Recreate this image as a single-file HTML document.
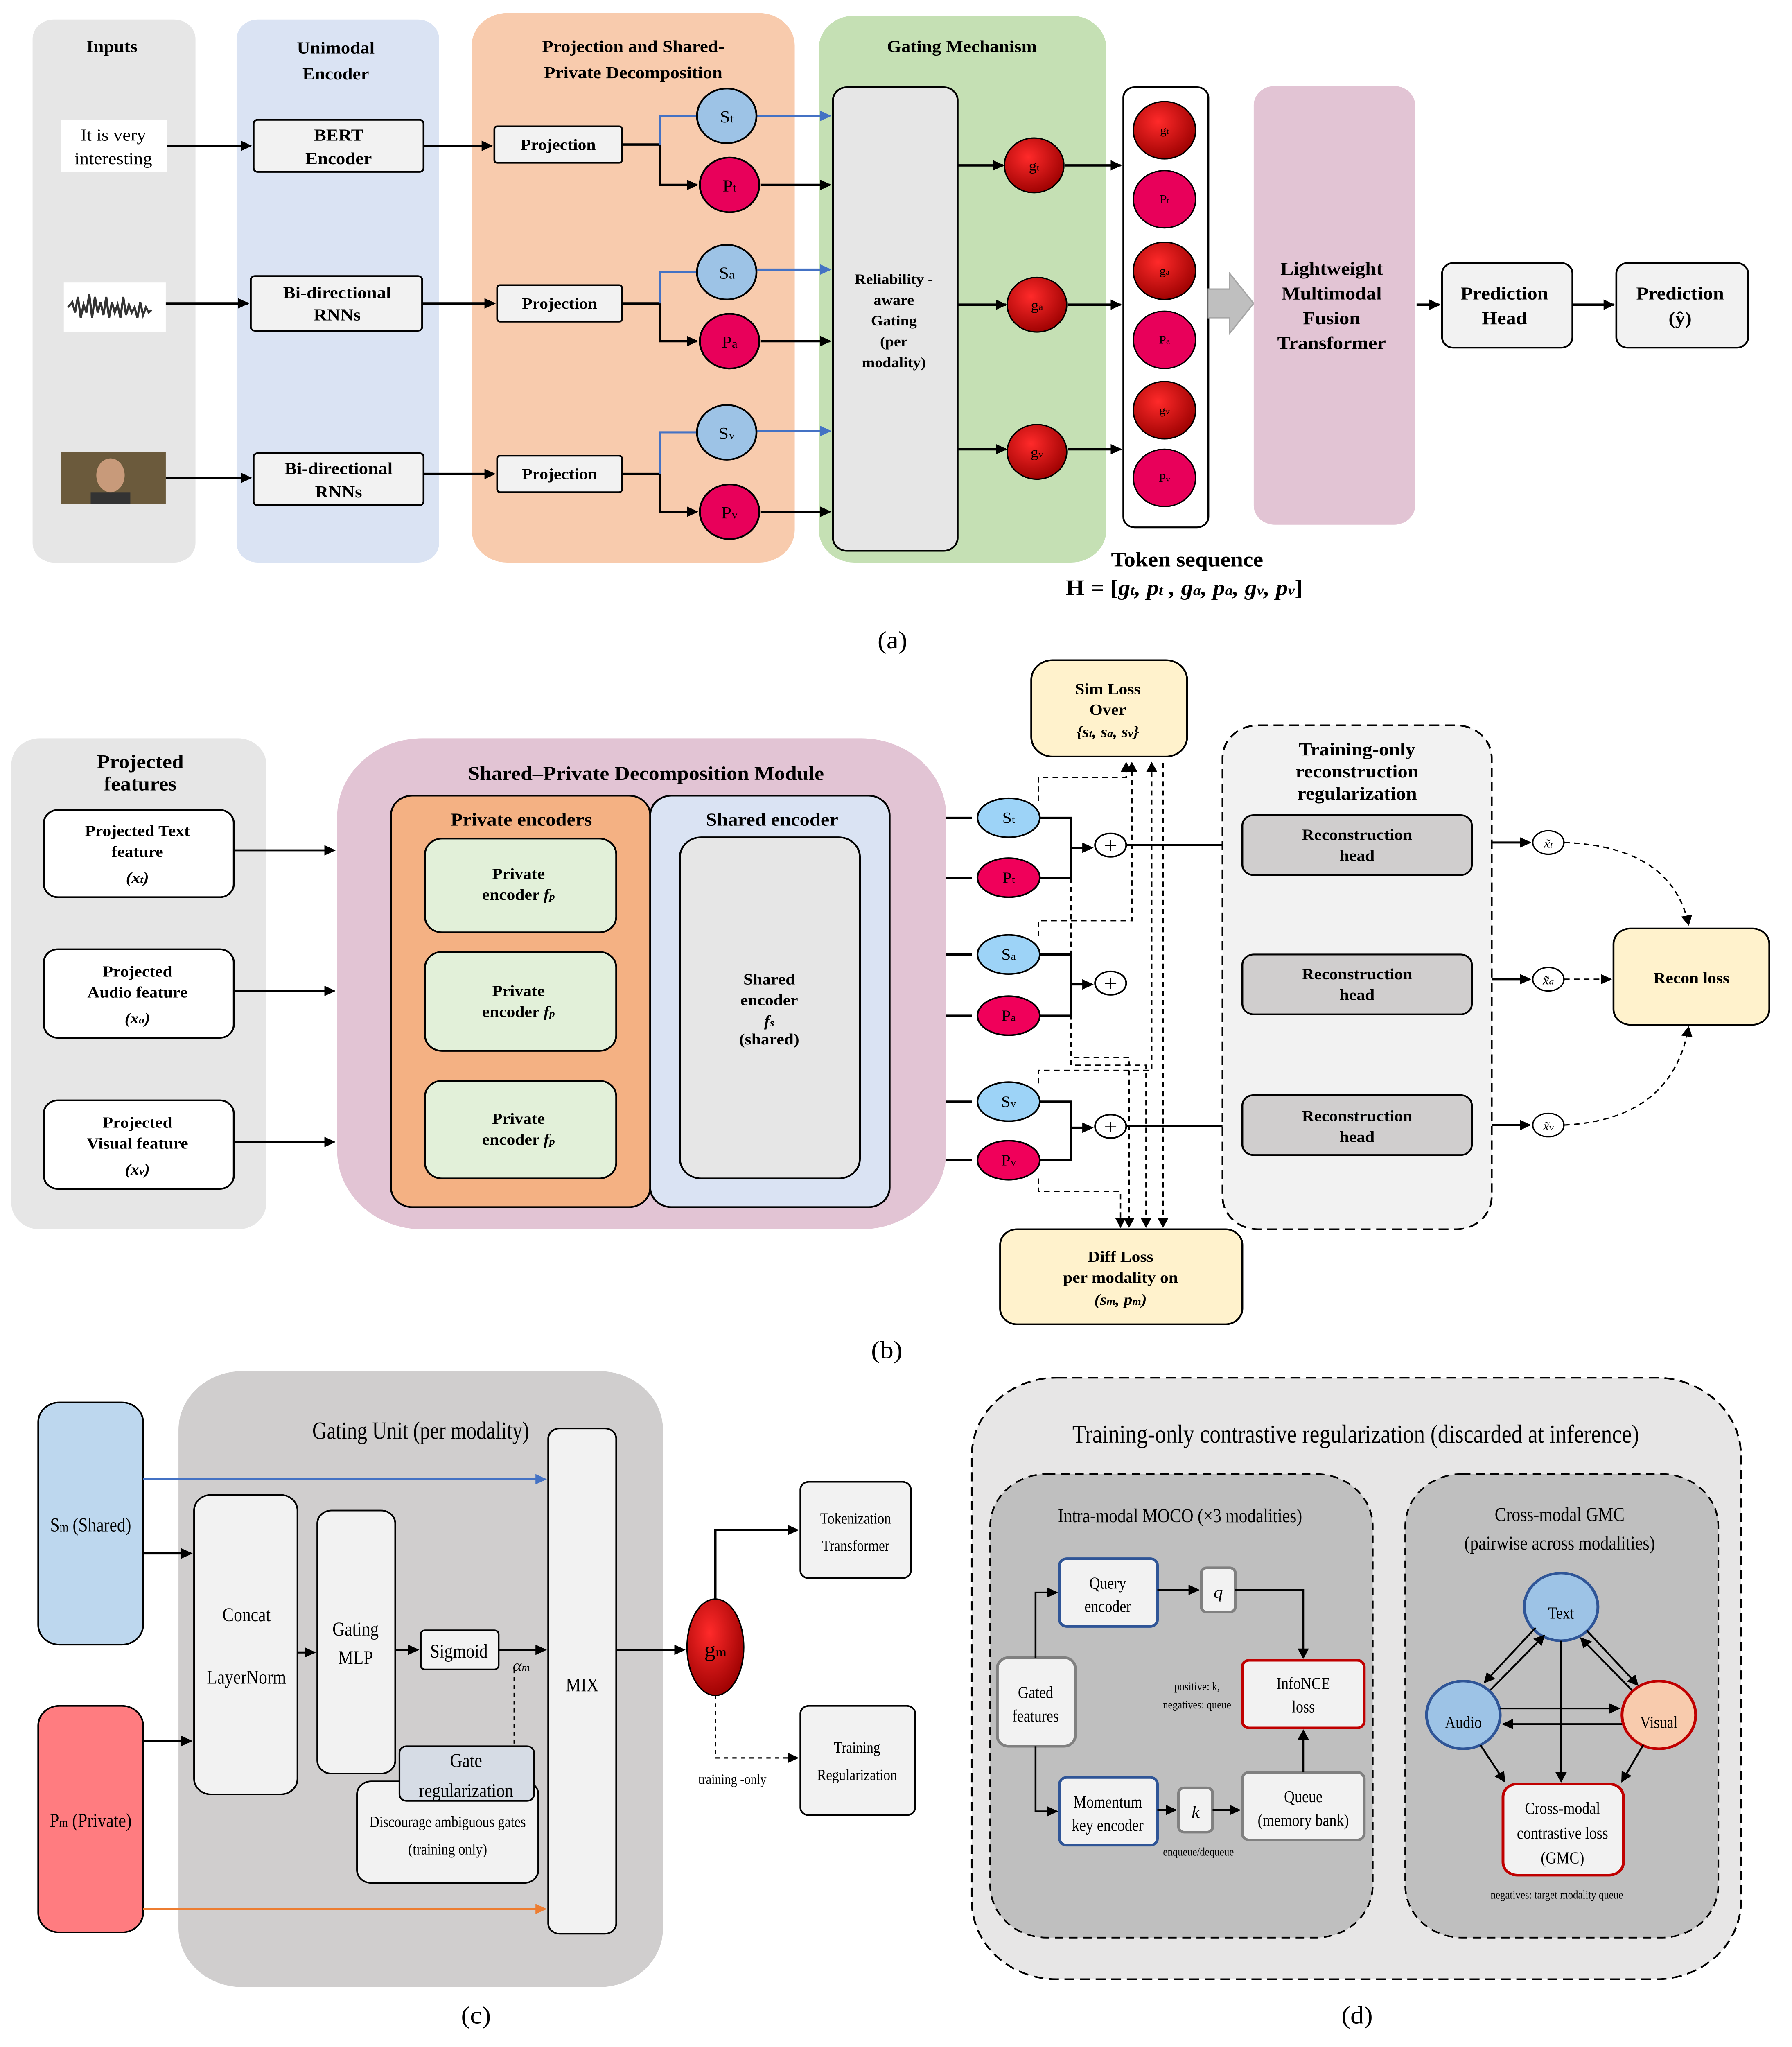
<!DOCTYPE html>
<html><head><meta charset="utf-8"><meta name="viewport" content="width=device-width, initial-scale=1"><style>
html,body{margin:0;padding:0;background:#fff;width:100%;height:100%;overflow:hidden}
svg{display:block;position:fixed;left:0;top:0;width:100vw;height:100vh}
text{font-family:"Liberation Serif",serif;}
.b{font-weight:bold}
</style></head><body>
<svg viewBox="0 0 1265 1572" preserveAspectRatio="none" xmlns="http://www.w3.org/2000/svg">
<defs>
<marker id="ar" markerWidth="8" markerHeight="8" refX="7" refY="4" orient="auto" markerUnits="userSpaceOnUse"><path d="M0,0 L8,4 L0,8 z" fill="#000"/></marker>
<marker id="arb" markerWidth="8" markerHeight="8" refX="7" refY="4" orient="auto" markerUnits="userSpaceOnUse"><path d="M0,0 L8,4 L0,8 z" fill="#4472c4"/></marker>
<marker id="aro" markerWidth="8" markerHeight="8" refX="7" refY="4" orient="auto" markerUnits="userSpaceOnUse"><path d="M0,0 L8,4 L0,8 z" fill="#ed7d31"/></marker>
<radialGradient id="dr" cx="40%" cy="35%" r="70%"><stop offset="0" stop-color="#ff2a2a"/><stop offset="1" stop-color="#9a0000"/></radialGradient>
</defs>
<rect width="1265" height="1572" fill="#fff"/>

<!-- ===== Panel (a) ===== -->
<rect x="23" y="15" width="115" height="417" rx="15" fill="#e6e6e6"/>
<rect x="167" y="15" width="143" height="417" rx="15" fill="#dae3f3"/>
<rect x="333" y="10" width="228" height="422" rx="25" fill="#f8cbad"/>
<rect x="578" y="12" width="203" height="420" rx="25" fill="#c5e0b4"/>
<g class="b" font-size="13" text-anchor="middle">
<text x="79" y="40" class="b">Inputs</text>
<text x="237" y="41" class="b">Unimodal</text><text x="237" y="61" class="b">Encoder</text>
<text x="447" y="40" class="b">Projection  and Shared-</text><text x="447" y="60" class="b">Private Decomposition</text>
<text x="679" y="40" class="b">Gating Mechanism</text>
</g>
<rect x="43" y="92" width="75" height="40" fill="#fff"/>
<text x="80" y="108" font-size="13" text-anchor="middle">It is very</text>
<text x="80" y="126" font-size="13" text-anchor="middle">interesting</text>
<rect x="45" y="217" width="72" height="38" fill="#fff"/>
<path d="M48,236 l3,-4 l2,8 l2,-12 l2,16 l2,-10 l2,6 l2,-14 l2,18 l2,-16 l2,12 l2,-8 l2,10 l2,-14 l2,16 l2,-12 l2,8 l2,-6 l2,10 l2,-16 l2,14 l2,-8 l2,6 l2,-4 l2,8 l2,-12 l2,10 l2,-6 l2,4 l2,-2" stroke="#333" stroke-width="1.5" fill="none"/>
<rect x="43" y="347" width="74" height="40" fill="#6b5a3c"/>
<ellipse cx="78" cy="365" rx="10" ry="13" fill="#c89a7a"/>
<rect x="64" y="378" width="28" height="9" fill="#333"/>
<g fill="#f2f2f2" stroke="#000" stroke-width="1.3">
<rect x="179" y="92" width="120" height="40" rx="3"/>
<rect x="177" y="212" width="121" height="42" rx="3"/>
<rect x="179" y="348" width="120" height="40" rx="3"/>
<rect x="349" y="97" width="90" height="28" rx="2"/>
<rect x="351" y="219" width="88" height="28" rx="2"/>
<rect x="351" y="350" width="88" height="28" rx="2"/>
</g>
<g font-size="13" text-anchor="middle" class="b">
<text x="239" y="108" class="b">BERT</text><text x="239" y="126" class="b">Encoder</text>
<text x="238" y="229" class="b">Bi-directional</text><text x="238" y="246" class="b">RNNs</text>
<text x="239" y="364" class="b">Bi-directional</text><text x="239" y="382" class="b">RNNs</text>
<text x="394" y="115" font-size="12" class="b">Projection</text>
<text x="395" y="237" font-size="12" class="b">Projection</text>
<text x="395" y="368" font-size="12" class="b">Projection</text>
</g>
<g stroke="#000" stroke-width="1.8" fill="none">
<path d="M118,112 H177" marker-end="url(#ar)"/>
<path d="M117,233 H175" marker-end="url(#ar)"/>
<path d="M117,367 H177" marker-end="url(#ar)"/>
<path d="M299,112 H347" marker-end="url(#ar)"/>
<path d="M298,233 H349" marker-end="url(#ar)"/>
<path d="M299,364 H349" marker-end="url(#ar)"/>
<path d="M439,111 H466 V142 H492" marker-end="url(#ar)"/>
<path d="M439,233 H466 V262 H492" marker-end="url(#ar)"/>
<path d="M439,364 H466 V393 H492" marker-end="url(#ar)"/>
<path d="M537,142 H586" marker-end="url(#ar)"/>
<path d="M537,262 H586" marker-end="url(#ar)"/>
<path d="M537,393 H586" marker-end="url(#ar)"/>
<path d="M676,127 H708" marker-end="url(#ar)"/>
<path d="M676,234 H710" marker-end="url(#ar)"/>
<path d="M676,345 H710" marker-end="url(#ar)"/>
<path d="M752,127 H791" marker-end="url(#ar)"/>
<path d="M754,234 H791" marker-end="url(#ar)"/>
<path d="M754,345 H791" marker-end="url(#ar)"/>
<path d="M1000,234 H1016" marker-end="url(#ar)"/>
<path d="M1110,234 H1139" marker-end="url(#ar)"/>
</g>
<g stroke="#4472c4" stroke-width="1.6" fill="none">
<path d="M466,111 V89 H492"/><path d="M466,233 V209 H492"/><path d="M466,364 V332 H492"/>
<path d="M534,89 H586" marker-end="url(#arb)"/>
<path d="M534,207 H586" marker-end="url(#arb)"/>
<path d="M534,331 H586" marker-end="url(#arb)"/>
</g>
<g stroke="#000" stroke-width="1.3">
<circle cx="513" cy="89" r="21" fill="#9dc3e6"/><circle cx="515" cy="142" r="21" fill="#e8005a"/>
<circle cx="513" cy="209" r="21" fill="#9dc3e6"/><circle cx="515" cy="262" r="21" fill="#e8005a"/>
<circle cx="513" cy="332" r="21" fill="#9dc3e6"/><circle cx="515" cy="393" r="21" fill="#e8005a"/>
</g>
<g font-size="13" text-anchor="middle">
<text x="513" y="94">S<tspan font-size="9">t</tspan></text><text x="515" y="147">P<tspan font-size="9">t</tspan></text>
<text x="513" y="214">S<tspan font-size="9">a</tspan></text><text x="515" y="267">P<tspan font-size="9">a</tspan></text>
<text x="513" y="337">S<tspan font-size="9">v</tspan></text><text x="515" y="398">P<tspan font-size="9">v</tspan></text>
</g>
<rect x="588" y="67" width="88" height="356" rx="10" fill="#e6e6e6" stroke="#000" stroke-width="1.3"/>
<g font-size="11" text-anchor="middle" class="b">
<text x="631" y="218" class="b">Reliability -</text><text x="631" y="234" class="b">aware</text><text x="631" y="250" class="b">Gating</text><text x="631" y="266" class="b">(per</text><text x="631" y="282" class="b">modality)</text>
</g>
<g stroke="#000" stroke-width="1"><circle cx="730" cy="127" r="21" fill="url(#dr)"/><circle cx="732" cy="234" r="21" fill="url(#dr)"/><circle cx="732" cy="347" r="21" fill="url(#dr)"/></g>
<g font-size="11" text-anchor="middle"><text x="730" y="131">g<tspan font-size="7">t</tspan></text><text x="732" y="238">g<tspan font-size="7">a</tspan></text><text x="732" y="351">g<tspan font-size="7">v</tspan></text></g>
<rect x="793" y="67" width="60" height="338" rx="8" fill="#fff" stroke="#000" stroke-width="1.3"/>
<g stroke="#000" stroke-width="1">
<circle cx="822" cy="100" r="22" fill="url(#dr)"/><circle cx="822" cy="153" r="22" fill="#e8005a"/>
<circle cx="822" cy="208" r="22" fill="url(#dr)"/><circle cx="822" cy="261" r="22" fill="#e8005a"/>
<circle cx="822" cy="315" r="22" fill="url(#dr)"/><circle cx="822" cy="367" r="22" fill="#e8005a"/>
</g>
<g font-size="9" text-anchor="middle"><text x="822" y="103">g<tspan font-size="6">t</tspan></text><text x="822" y="156">P<tspan font-size="6">t</tspan></text><text x="822" y="211">g<tspan font-size="6">a</tspan></text><text x="822" y="264">P<tspan font-size="6">a</tspan></text><text x="822" y="318">g<tspan font-size="6">v</tspan></text><text x="822" y="370">P<tspan font-size="6">v</tspan></text></g>
<path d="M853,222 H868 V210 L885,233 L868,256 V244 H853 Z" fill="#bfbfbf" stroke="#a6a6a6"/>
<rect x="885" y="66" width="114" height="337" rx="15" fill="#e2c4d4"/>
<g font-size="14" text-anchor="middle" class="b"><text x="940" y="211" class="b">Lightweight</text><text x="940" y="230" class="b">Multimodal</text><text x="940" y="249" class="b">Fusion</text><text x="940" y="268" class="b">Transformer</text></g>
<rect x="1018" y="202" width="92" height="65" rx="8" fill="#f2f2f2" stroke="#000" stroke-width="1.3"/>
<rect x="1141" y="202" width="93" height="65" rx="8" fill="#f2f2f2" stroke="#000" stroke-width="1.3"/>
<g font-size="14" text-anchor="middle" class="b"><text x="1062" y="230" class="b">Prediction</text><text x="1062" y="249" class="b">Head</text><text x="1186" y="230" class="b">Prediction</text><text x="1186" y="249" class="b">(ŷ)</text></g>
<text x="838" y="435" font-size="16" text-anchor="middle" class="b">Token sequence</text>
<text x="836" y="457" font-size="17" text-anchor="middle" class="b">H = [<tspan font-style="italic">g<tspan font-size="11">t</tspan>, p<tspan font-size="11">t</tspan> , g<tspan font-size="11">a</tspan>, p<tspan font-size="11">a</tspan>, g<tspan font-size="11">v</tspan>, p<tspan font-size="11">v</tspan></tspan>]</text>
<text x="630" y="498" font-size="19" text-anchor="middle">(a)</text>

<!-- ===== Panel (b) ===== -->
<rect x="8" y="567" width="180" height="377" rx="20" fill="#e6e6e6"/>
<text x="99" y="590" font-size="15" text-anchor="middle" class="b">Projected</text>
<text x="99" y="607" font-size="15" text-anchor="middle" class="b">features</text>
<g fill="#fff" stroke="#000" stroke-width="1.3">
<rect x="31" y="622" width="134" height="67" rx="10"/><rect x="31" y="729" width="134" height="68" rx="10"/><rect x="31" y="845" width="134" height="68" rx="10"/>
</g>
<g font-size="12" text-anchor="middle" class="b">
<text x="97" y="642" class="b">Projected Text</text><text x="97" y="658" class="b">feature</text><text x="97" y="678" font-style="italic">(x<tspan font-size="8">t</tspan>)</text>
<text x="97" y="750" class="b">Projected</text><text x="97" y="766" class="b">Audio feature</text><text x="97" y="786" font-style="italic">(x<tspan font-size="8">a</tspan>)</text>
<text x="97" y="866" class="b">Projected</text><text x="97" y="882" class="b">Visual feature</text><text x="97" y="902" font-style="italic">(x<tspan font-size="8">v</tspan>)</text>
</g>
<g stroke="#000" stroke-width="1.5"><path d="M165,653 H236" marker-end="url(#ar)"/><path d="M165,761 H236" marker-end="url(#ar)"/><path d="M165,877 H236" marker-end="url(#ar)"/></g>
<rect x="238" y="567" width="430" height="377" rx="60" fill="#e2c4d4"/>
<text x="456" y="599" font-size="15" text-anchor="middle" class="b">Shared–Private Decomposition Module</text>
<rect x="276" y="611" width="183" height="316" rx="15" fill="#f4b183" stroke="#000" stroke-width="1.3"/>
<rect x="459" y="611" width="169" height="316" rx="15" fill="#dae3f3" stroke="#000" stroke-width="1.3"/>
<text x="368" y="634" font-size="14" text-anchor="middle" class="b">Private encoders</text>
<text x="545" y="634" font-size="14" text-anchor="middle" class="b">Shared encoder</text>
<g fill="#e2f0d9" stroke="#000" stroke-width="1.3">
<rect x="300" y="644" width="135" height="72" rx="12"/><rect x="300" y="731" width="135" height="76" rx="12"/><rect x="300" y="830" width="135" height="75" rx="12"/>
</g>
<rect x="480" y="643" width="127" height="262" rx="15" fill="#e6e6e6" stroke="#000" stroke-width="1.3"/>
<g font-size="12" text-anchor="middle" class="b">
<text x="366" y="675" class="b">Private</text><text x="366" y="691" class="b">encoder <tspan font-style="italic">f</tspan><tspan font-size="8" font-style="italic">p</tspan></text>
<text x="366" y="765" class="b">Private</text><text x="366" y="781" class="b">encoder <tspan font-style="italic">f</tspan><tspan font-size="8" font-style="italic">p</tspan></text>
<text x="366" y="863" class="b">Private</text><text x="366" y="879" class="b">encoder <tspan font-style="italic">f</tspan><tspan font-size="8" font-style="italic">p</tspan></text>
<text x="543" y="756" class="b">Shared</text><text x="543" y="772" class="b">encoder</text><text x="543" y="788" font-style="italic" class="b">f<tspan font-size="8">s</tspan></text><text x="543" y="802" class="b">(shared)</text>
</g>
<g stroke="#000" stroke-width="1" fill="none" stroke-dasharray="4,3">
<path d="M733,615 V597 H795 V586" marker-end="url(#ar)"/>
<path d="M733,719 V707 H799 V586" marker-end="url(#ar)"/>
<path d="M733,832 V822 H813 V586" marker-end="url(#ar)"/>
<path d="M756,660 V812 H797 V942" marker-end="url(#ar)"/>
<path d="M756,765 V818 H809 V942" marker-end="url(#ar)"/>
<path d="M733,905 V915 H791 V942" marker-end="url(#ar)"/>
<path d="M821,586 V942" marker-end="url(#ar)"/>
</g>
<g stroke="#000" stroke-width="1.6" fill="none">
<path d="M668,628 H686"/><path d="M668,674 H686"/><path d="M668,733 H686"/><path d="M668,780 H686"/><path d="M668,846 H686"/><path d="M668,891 H686"/>
<path d="M734,628 H756 V674 H734"/><path d="M756,651 H771" marker-end="url(#ar)"/>
<path d="M734,733 H756 V780 H734"/><path d="M756,756 H771" marker-end="url(#ar)"/>
<path d="M734,846 H756 V891 H734"/><path d="M756,866 H771" marker-end="url(#ar)"/>
<path d="M795,649 H875" marker-end="url(#ar)"/>
<path d="M795,865 H875" marker-end="url(#ar)"/>
<path d="M1039,647 H1080" marker-end="url(#ar)"/><path d="M1039,752 H1080" marker-end="url(#ar)"/><path d="M1039,864 H1080" marker-end="url(#ar)"/>
</g>
<g stroke="#000" stroke-width="1.2">
<ellipse cx="712" cy="628" rx="22" ry="15" fill="#9dd3f7"/><ellipse cx="712" cy="674" rx="22" ry="15" fill="#f0005a"/>
<ellipse cx="712" cy="733" rx="22" ry="15" fill="#9dd3f7"/><ellipse cx="712" cy="780" rx="22" ry="15" fill="#f0005a"/>
<ellipse cx="712" cy="846" rx="22" ry="15" fill="#9dd3f7"/><ellipse cx="712" cy="891" rx="22" ry="15" fill="#f0005a"/>
</g>
<g font-size="12" text-anchor="middle">
<text x="712" y="632">S<tspan font-size="8">t</tspan></text><text x="712" y="678">P<tspan font-size="8">t</tspan></text>
<text x="712" y="737">S<tspan font-size="8">a</tspan></text><text x="712" y="784">P<tspan font-size="8">a</tspan></text>
<text x="712" y="850">S<tspan font-size="8">v</tspan></text><text x="712" y="895">P<tspan font-size="8">v</tspan></text>
</g>
<g stroke="#000" stroke-width="1.2" fill="#fff">
<ellipse cx="784" cy="649" rx="11" ry="9"/><ellipse cx="784" cy="755" rx="11" ry="9"/><ellipse cx="784" cy="865" rx="11" ry="9"/>
</g>
<g font-size="17" text-anchor="middle"><text x="784" y="655">+</text><text x="784" y="761">+</text><text x="784" y="871">+</text></g>
<rect x="728" y="507" width="110" height="74" rx="15" fill="#fff2cc" stroke="#000" stroke-width="1.3"/>
<g font-size="12" text-anchor="middle" class="b"><text x="782" y="533" class="b">Sim Loss</text><text x="782" y="549" class="b">Over</text><text x="782" y="566" font-style="italic">{s<tspan font-size="8">t</tspan>, s<tspan font-size="8">a</tspan>, s<tspan font-size="8">v</tspan>}</text></g>
<rect x="706" y="944" width="171" height="73" rx="12" fill="#fff2cc" stroke="#000" stroke-width="1.3"/>
<g font-size="12" text-anchor="middle" class="b"><text x="791" y="969" class="b">Diff Loss</text><text x="791" y="985" class="b">per modality  on</text><text x="791" y="1002" font-style="italic">(s<tspan font-size="8">m</tspan>, p<tspan font-size="8">m</tspan>)</text></g>
<rect x="863" y="557" width="190" height="387" rx="25" fill="#f2f2f2" stroke="#000" stroke-width="1.3" stroke-dasharray="7,4"/>
<g font-size="14" text-anchor="middle" class="b"><text x="958" y="580" class="b">Training-only</text><text x="958" y="597" class="b">reconstruction</text><text x="958" y="614" class="b">regularization</text></g>
<g fill="#d0cece" stroke="#000" stroke-width="1.3">
<rect x="877" y="626" width="162" height="46" rx="8"/><rect x="877" y="733" width="162" height="46" rx="8"/><rect x="877" y="841" width="162" height="46" rx="8"/>
</g>
<g font-size="12" text-anchor="middle" class="b">
<text x="958" y="645" class="b">Reconstruction</text><text x="958" y="661" class="b">head</text>
<text x="958" y="752" class="b">Reconstruction</text><text x="958" y="768" class="b">head</text>
<text x="958" y="861" class="b">Reconstruction</text><text x="958" y="877" class="b">head</text>
</g>
<g stroke="#000" stroke-width="1" fill="#fff"><ellipse cx="1093" cy="647" rx="11" ry="9"/><ellipse cx="1093" cy="752" rx="11" ry="9"/><ellipse cx="1093" cy="864" rx="11" ry="9"/></g>
<g font-size="10" text-anchor="middle" font-style="italic"><text x="1093" y="651">x̃<tspan font-size="7">t</tspan></text><text x="1093" y="756">x̃<tspan font-size="7">a</tspan></text><text x="1093" y="868">x̃<tspan font-size="7">v</tspan></text></g>
<g stroke="#000" stroke-width="1" fill="none" stroke-dasharray="4,3">
<path d="M1104,647 Q1180,650 1192,710" marker-end="url(#ar)"/>
<path d="M1104,752 H1137" marker-end="url(#ar)"/>
<path d="M1104,864 Q1180,860 1192,789" marker-end="url(#ar)"/>
</g>
<rect x="1139" y="713" width="110" height="74" rx="12" fill="#fff2cc" stroke="#000" stroke-width="1.3"/>
<text x="1194" y="755" font-size="12" text-anchor="middle" class="b">Recon loss</text>
<text x="626" y="1043" font-size="19" text-anchor="middle">(b)</text>

<!-- ===== Panel (c) ===== -->
<rect x="126" y="1053" width="342" height="473" rx="45" fill="#d0cece"/>
<text x="297" y="1105" font-size="19" text-anchor="middle" transform="translate(297,0) scale(0.75,1) translate(-297,0)">Gating Unit (per modality)</text>
<rect x="27" y="1077" width="74" height="186" rx="15" fill="#bdd7ee" stroke="#000" stroke-width="1.2"/>
<rect x="27" y="1310" width="74" height="174" rx="15" fill="#ff7c80" stroke="#000" stroke-width="1.2"/>
<text x="64" y="1176" font-size="15" text-anchor="middle" transform="translate(64,0) scale(0.8,1) translate(-64,0)">S<tspan font-size="10">m</tspan> (Shared)</text>
<text x="64" y="1403" font-size="15" text-anchor="middle" transform="translate(64,0) scale(0.8,1) translate(-64,0)">P<tspan font-size="10">m</tspan> (Private)</text>
<g fill="#f2f2f2" stroke="#000" stroke-width="1.2">
<rect x="137" y="1148" width="73" height="230" rx="12"/>
<rect x="224" y="1160" width="55" height="202" rx="10"/>
<rect x="297" y="1252" width="55" height="30" rx="3"/>
<rect x="387" y="1097" width="48" height="388" rx="8"/>
<rect x="252" y="1368" width="128" height="78" rx="10"/>
<rect x="565" y="1138" width="78" height="74" rx="6"/>
<rect x="565" y="1310" width="81" height="84" rx="6"/>
</g>
<rect x="282" y="1341" width="95" height="42" rx="5" fill="#d6dce5" stroke="#000" stroke-width="1.2"/>
<g font-size="15" text-anchor="middle">
<text x="174" y="1245" transform="translate(174,0) scale(0.8,1) translate(-174,0)">Concat</text>
<text x="174" y="1293" transform="translate(174,0) scale(0.8,1) translate(-174,0)">LayerNorm</text>
<text x="251" y="1256" transform="translate(251,0) scale(0.8,1) translate(-251,0)">Gating</text>
<text x="251" y="1278" transform="translate(251,0) scale(0.8,1) translate(-251,0)">MLP</text>
<text x="324" y="1273" transform="translate(324,0) scale(0.8,1) translate(-324,0)">Sigmoid</text>
<text x="411" y="1299" transform="translate(411,0) scale(0.8,1) translate(-411,0)">MIX</text>
<text x="329" y="1357" transform="translate(329,0) scale(0.8,1) translate(-329,0)">Gate</text>
<text x="329" y="1380" transform="translate(329,0) scale(0.8,1) translate(-329,0)">regularization</text>
</g>
<g font-size="12" text-anchor="middle">
<text x="316" y="1403" transform="translate(316,0) scale(0.8,1) translate(-316,0)">Discourage ambiguous gates</text>
<text x="316" y="1424" transform="translate(316,0) scale(0.8,1) translate(-316,0)">(training only)</text>
<text x="604" y="1170" transform="translate(604,0) scale(0.8,1) translate(-604,0)">Tokenization</text>
<text x="604" y="1191" transform="translate(604,0) scale(0.8,1) translate(-604,0)">Transformer</text>
<text x="605" y="1346" transform="translate(605,0) scale(0.8,1) translate(-605,0)">Training</text>
<text x="605" y="1367" transform="translate(605,0) scale(0.8,1) translate(-605,0)">Regularization</text>
<text x="517" y="1370" font-size="11" transform="translate(517,0) scale(0.8,1) translate(-517,0)">training -only</text>
<text x="368" y="1283" font-size="12" font-style="italic">α<tspan font-size="8">m</tspan></text>
</g>
<g stroke="#000" stroke-width="1.6" fill="none">
<path d="M101,1193 H135" marker-end="url(#ar)"/>
<path d="M101,1337 H135" marker-end="url(#ar)"/>
<path d="M210,1269 H222" marker-end="url(#ar)"/>
<path d="M279,1267 H295" marker-end="url(#ar)"/>
<path d="M352,1267 H385" marker-end="url(#ar)"/>
<path d="M435,1267 H483" marker-end="url(#ar)"/>
<path d="M505,1228 V1175 H563" marker-end="url(#ar)"/>
</g>
<g stroke="#000" stroke-width="1" fill="none" stroke-dasharray="3,3">
<path d="M363,1282 V1341"/>
<path d="M505,1302 V1350 H563" marker-end="url(#ar)"/>
</g>
<path d="M101,1136 H385" stroke="#4472c4" stroke-width="1.6" marker-end="url(#arb)"/>
<path d="M101,1466 H385" stroke="#ed7d31" stroke-width="1.6" marker-end="url(#aro)"/>
<ellipse cx="505" cy="1265" rx="20" ry="37" fill="url(#dr)" stroke="#000"/>
<text x="505" y="1272" font-size="16" text-anchor="middle">g<tspan font-size="10">m</tspan></text>
<text x="336" y="1554" font-size="19" text-anchor="middle">(c)</text>

<!-- ===== Panel (d) ===== -->
<rect x="686" y="1058" width="543" height="462" rx="60" fill="#e7e6e6" stroke="#000" stroke-width="1.3" stroke-dasharray="7,4"/>
<text x="957" y="1108" font-size="20" text-anchor="middle" transform="translate(957,0) scale(0.78,1) translate(-957,0)">Training-only contrastive regularization (discarded at inference)</text>
<rect x="699" y="1132" width="270" height="356" rx="40" fill="#bfbfbf" stroke="#000" stroke-width="1.2" stroke-dasharray="6,4"/>
<rect x="992" y="1132" width="221" height="356" rx="40" fill="#bfbfbf" stroke="#000" stroke-width="1.2" stroke-dasharray="6,4"/>
<g font-size="15" text-anchor="middle">
<text x="833" y="1169" transform="translate(833,0) scale(0.8,1) translate(-833,0)">Intra-modal MOCO (×3 modalities)</text>
<text x="1101" y="1168" transform="translate(1101,0) scale(0.8,1) translate(-1101,0)">Cross-modal GMC</text>
<text x="1101" y="1190" transform="translate(1101,0) scale(0.8,1) translate(-1101,0)">(pairwise across modalities)</text>
</g>
<g stroke-width="2" fill="#f2f2f2">
<rect x="748" y="1197" width="69" height="52" rx="5" stroke="#2f5597"/>
<rect x="748" y="1365" width="69" height="52" rx="5" stroke="#2f5597"/>
<rect x="877" y="1275" width="86" height="52" rx="5" stroke="#c00000"/>
<rect x="877" y="1361" width="86" height="52" rx="5" stroke="#808080"/>
<rect x="704" y="1273" width="55" height="68" rx="8" stroke="#808080"/>
<rect x="848" y="1204" width="24" height="34" rx="4" stroke="#808080"/>
<rect x="832" y="1373" width="24" height="34" rx="4" stroke="#808080"/>
<rect x="1061" y="1370" width="85" height="70" rx="10" stroke="#c00000"/>
</g>
<circle cx="1102" cy="1234" r="26" fill="#9dc3e6" stroke="#2f5597" stroke-width="2"/>
<circle cx="1033" cy="1317" r="26" fill="#9dc3e6" stroke="#2f5597" stroke-width="2"/>
<circle cx="1171" cy="1317" r="26" fill="#f8cbad" stroke="#c00000" stroke-width="2"/>
<g stroke="#000" stroke-width="1.3" fill="none">
<path d="M731,1273 V1223 H746" marker-end="url(#ar)"/>
<path d="M731,1341 V1391 H746" marker-end="url(#ar)"/>
<path d="M817,1221 H846" marker-end="url(#ar)"/>
<path d="M872,1221 H920 V1273" marker-end="url(#ar)"/>
<path d="M817,1390 H830" marker-end="url(#ar)"/>
<path d="M856,1390 H875" marker-end="url(#ar)"/>
<path d="M920,1361 V1329" marker-end="url(#ar)"/>
<path d="M1084,1250 L1048,1292" marker-end="url(#ar)"/>
<path d="M1052,1298 L1090,1256" marker-end="url(#ar)"/>
<path d="M1120,1252 L1156,1294" marker-end="url(#ar)"/>
<path d="M1152,1298 L1116,1258" marker-end="url(#ar)"/>
<path d="M1059,1312 H1143" marker-end="url(#ar)"/>
<path d="M1145,1324 H1061" marker-end="url(#ar)"/>
<path d="M1102,1260 V1368" marker-end="url(#ar)"/>
<path d="M1045,1340 L1062,1368" marker-end="url(#ar)"/>
<path d="M1160,1340 L1145,1368" marker-end="url(#ar)"/>
</g>
<g font-size="13" text-anchor="middle">
<text x="782" y="1220" transform="translate(782,0) scale(0.8,1) translate(-782,0)">Query</text>
<text x="782" y="1238" transform="translate(782,0) scale(0.8,1) translate(-782,0)">encoder</text>
<text x="782" y="1388" transform="translate(782,0) scale(0.8,1) translate(-782,0)">Momentum</text>
<text x="782" y="1406" transform="translate(782,0) scale(0.8,1) translate(-782,0)">key encoder</text>
<text x="731" y="1304" transform="translate(731,0) scale(0.8,1) translate(-731,0)">Gated</text>
<text x="731" y="1322" transform="translate(731,0) scale(0.8,1) translate(-731,0)">features</text>
<text x="920" y="1297" transform="translate(920,0) scale(0.8,1) translate(-920,0)">InfoNCE</text>
<text x="920" y="1315" transform="translate(920,0) scale(0.8,1) translate(-920,0)">loss</text>
<text x="920" y="1384" transform="translate(920,0) scale(0.8,1) translate(-920,0)">Queue</text>
<text x="920" y="1402" transform="translate(920,0) scale(0.8,1) translate(-920,0)">(memory bank)</text>
<text x="860" y="1227" font-style="italic">q</text>
<text x="844" y="1396" font-style="italic">k</text>
<text x="1102" y="1243" transform="translate(1102,0) scale(0.8,1) translate(-1102,0)">Text</text>
<text x="1033" y="1327" transform="translate(1033,0) scale(0.8,1) translate(-1033,0)">Audio</text>
<text x="1171" y="1327" transform="translate(1171,0) scale(0.8,1) translate(-1171,0)">Visual</text>
<text x="1103" y="1393" transform="translate(1103,0) scale(0.8,1) translate(-1103,0)">Cross-modal</text>
<text x="1103" y="1412" transform="translate(1103,0) scale(0.8,1) translate(-1103,0)">contrastive loss</text>
<text x="1103" y="1431" transform="translate(1103,0) scale(0.8,1) translate(-1103,0)">(GMC)</text>
</g>
<g font-size="9" text-anchor="middle">
<text x="845" y="1298" transform="translate(845,0) scale(0.8,1) translate(-845,0)">positive: k,</text>
<text x="845" y="1312" transform="translate(845,0) scale(0.8,1) translate(-845,0)">negatives: queue</text>
<text x="846" y="1425" transform="translate(846,0) scale(0.8,1) translate(-846,0)">enqueue/dequeue</text>
<text x="1099" y="1458" transform="translate(1099,0) scale(0.8,1) translate(-1099,0)">negatives: target modality queue</text>
</g>
<text x="958" y="1554" font-size="19" text-anchor="middle">(d)</text>
</svg>
</body></html>
